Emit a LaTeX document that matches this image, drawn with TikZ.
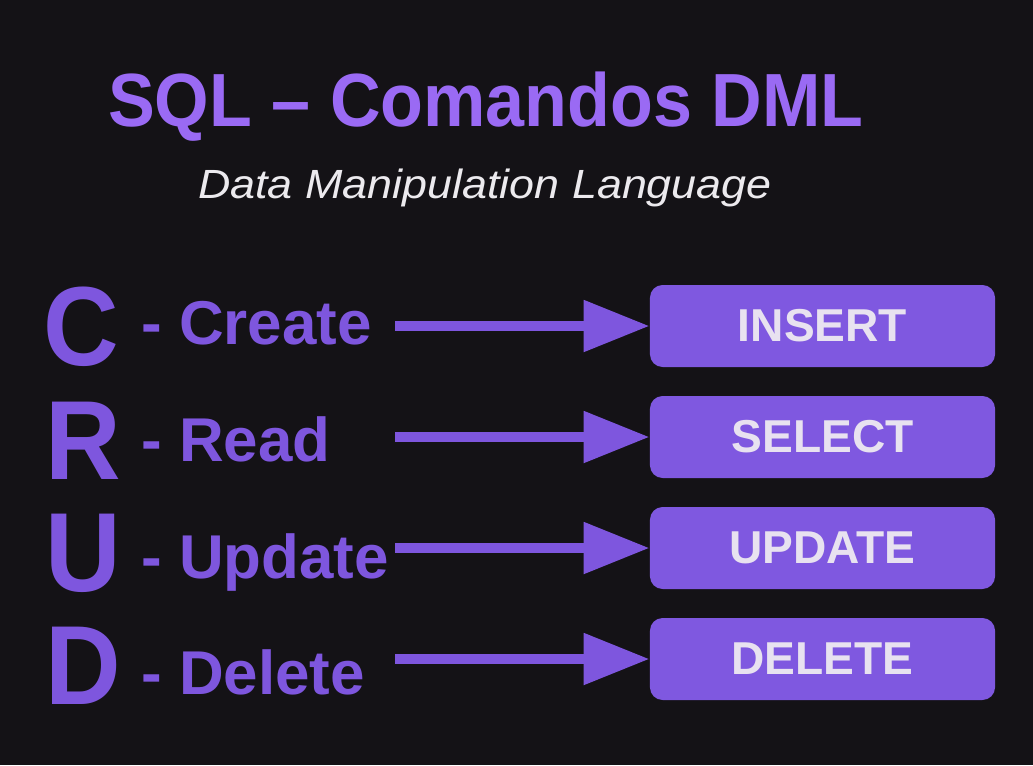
\documentclass[tikz,border=0pt]{standalone}
\usepackage{fontspec}
\setmainfont{Liberation Sans}
\newfontfamily\headfont[FakeStretch=0.93]{Liberation Sans}
\newfontfamily\subfont[FakeStretch=1.1]{Liberation Sans}
\usetikzlibrary{arrows.meta}

\definecolor{bgdark}{HTML}{141216}
\definecolor{titlepurple}{HTML}{9A6AF4}
\definecolor{crudpurple}{HTML}{7E56DE}
\definecolor{boxpurple}{HTML}{7F58E0}
\definecolor{boxtext}{HTML}{E8E2F0}
\definecolor{subgray}{HTML}{ECEAEE}

\tikzset{
  letter/.style={anchor=base west, inner sep=0pt, text=crudpurple,
    font=\headfont\bfseries\fontsize{80}{82}\selectfont},
  word/.style={anchor=base west, inner sep=0pt, text=crudpurple,
    font=\bfseries\fontsize{44}{46}\selectfont},
  command/.style={rectangle, rounded corners=9pt, fill=boxpurple, text=boxtext,
    minimum width=245.4pt, minimum height=58.3pt, inner sep=0pt,
    font=\bfseries\fontsize{32.8}{34}\selectfont},
  flow/.style={draw=crudpurple, line width=7.8pt,
    -{Triangle[length=47pt,width=35pt]}}
}

\begin{document}
\begin{tikzpicture}[x=0.025cm, y=-0.025cm]
        \fill[bgdark] (0,0) rectangle (1033,765);
        \useasboundingbox (0,0) rectangle (1033,765);

        % Nodes
        \node (title) at (486,126) [anchor=base, inner sep=0pt, text=titlepurple,
          font=\headfont\bfseries\fontsize{53.6}{56}\selectfont] {SQL – Comandos DML};
        \node (subtitle) at (485,198) [anchor=base, inner sep=0pt, text=subgray,
          font=\subfont\itshape\fontsize{29}{32}\selectfont] {Data Manipulation Language};

        \node (lc) at (43,365) [letter] {C};
        \node (lr) at (45,479) [letter] {R};
        \node (lu) at (45,591) [letter] {U};
        \node (ld) at (45,704) [letter] {D};

        \node (create) at (141,344) [word] {- Create};
        \node (read) at (141,461) [word] {- Read};
        \node (update) at (141,578) [word] {- Update};
        \node (delete) at (141,694) [word] {- Delete};

        \node (insert) at (822.5,326) [command] {INSERT};
        \node (select) at (822.5,437) [command] {SELECT};
        \node (upd) at (822.5,548) [command] {UPDATE};
        \node (del) at (822.5,659) [command] {DELETE};

        \coordinate (fc) at (395,326);
        \coordinate (fr) at (395,437);
        \coordinate (fu) at (395,548);
        \coordinate (fd) at (395,659);

        % Edges
        \draw[flow] (fc) -- (insert);
        \draw[flow] (fr) -- (select);
        \draw[flow] (fu) -- (upd);
        \draw[flow] (fd) -- (del);
    \end{tikzpicture}
\end{document}
